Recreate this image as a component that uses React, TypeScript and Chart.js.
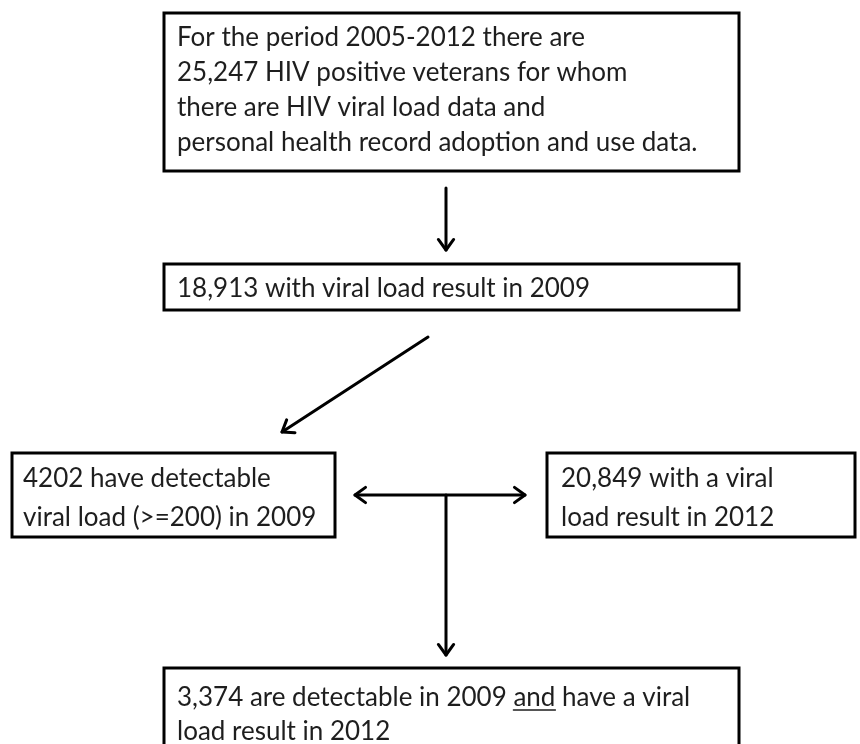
import React, { useEffect, useRef } from "react";
import { Chart, registerables } from "chart.js";

Chart.register(...registerables);

// Flowchart content (text of each step)
const stepTexts: string[][] = [
  [
    "For the period 2005-2012 there are",
    "25,247 HIV positive veterans for whom",
    "there are HIV viral load data and",
    "personal health record adoption and use data.",
  ],
  ["18,913 with viral load result in 2009"],
  ["4202 have detectable", "viral load (>=200) in 2009"],
  ["20,849 with a viral", "load result in 2012"],
  ["3,374 are detectable in 2009 _and_ have a viral", "load result in 2012"],
];

// Layout grid (in chart units; axis spans 0..860 x 0..744)
const boxLeft = [164, 164, 12, 547, 164];
const boxRight = [739, 739, 335, 855, 739];
const boxTop = [13, 264, 453, 453, 668];
const boxBottom = [171, 310, 537, 537, 764];
const firstBaseline = [33, 33, 34, 34, 38];
const lineGap = [35, 35, 39, 39, 34];
const textInset = [13, 13, 11, 14, 13];

// arrows
const arrowFromX = [446, 428, 446, 446];
const arrowFromY = [188, 337, 495, 495];
const arrowToX = [446, 282, 446, 355];
const arrowToY = [250, 432, 655, 495];
const arrowDouble = [false, false, false, true];
const arrowOtherX = [0, 0, 0, 525];

const FONT = "26px Lato, 'Open Sans', sans-serif";
const TEXT_COLOR = "#1e1e1e";

function drawHead(ctx: CanvasRenderingContext2D, x1: number, y1: number, x2: number, y2: number) {
  const ang = Math.atan2(y2 - y1, x2 - x1);
  const len = 13;
  const spread = Math.PI / 5;
  ctx.beginPath();
  ctx.moveTo(x2 - len * Math.cos(ang - spread), y2 - len * Math.sin(ang - spread));
  ctx.lineTo(x2, y2);
  ctx.lineTo(x2 - len * Math.cos(ang + spread), y2 - len * Math.sin(ang + spread));
  ctx.stroke();
}

const flowPlugin = {
  id: "flow",
  afterDraw(chart: any) {
    const ctx: CanvasRenderingContext2D = chart.ctx;
    const xs = chart.scales.x;
    const ys = chart.scales.y;
    const px = (v: number) => xs.getPixelForValue(v);
    const py = (v: number) => ys.getPixelForValue(v);
    ctx.save();
    ctx.fillStyle = "#ffffff";
    ctx.fillRect(0, 0, chart.width, chart.height);
    ctx.strokeStyle = "#000";
    ctx.lineCap = "round";
    // boxes
    stepTexts.forEach((lines, i) => {
      const x0 = px(boxLeft[i]);
      const x1 = px(boxRight[i]);
      const y0 = py(boxTop[i]);
      const y1 = py(boxBottom[i]);
      ctx.lineWidth = 3;
      ctx.lineJoin = "miter";
      ctx.strokeStyle = "#000";
      ctx.strokeRect(x0, y0, x1 - x0, y1 - y0);
      ctx.font = FONT;
      ctx.fillStyle = TEXT_COLOR;
      ctx.textBaseline = "alphabetic";
      ctx.textAlign = "left";
      lines.forEach((line, j) => {
        const by = y0 + firstBaseline[i] + j * lineGap[i];
        let cx = x0 + textInset[i];
        const parts = line.split("_");
        parts.forEach((part, k) => {
          ctx.fillText(part, cx, by);
          const w = ctx.measureText(part).width;
          if (k % 2 === 1) {
            ctx.lineWidth = 1.5;
            ctx.strokeStyle = TEXT_COLOR;
            ctx.beginPath();
            ctx.moveTo(cx, by + 4);
            ctx.lineTo(cx + w, by + 4);
            ctx.stroke();
          }
          cx += w;
        });
      });
    });
    // arrows
    ctx.lineJoin = "round";
    ctx.lineWidth = 3;
    ctx.strokeStyle = "#000";
    arrowFromX.forEach((fx, i) => {
      const sx = arrowDouble[i] ? px(arrowOtherX[i]) : px(fx);
      const sy = py(arrowFromY[i]);
      const ex = px(arrowToX[i]);
      const ey = py(arrowToY[i]);
      ctx.beginPath();
      ctx.moveTo(sx, sy);
      ctx.lineTo(ex, ey);
      ctx.stroke();
      drawHead(ctx, sx, sy, ex, ey);
      if (arrowDouble[i]) drawHead(ctx, ex, ey, sx, sy);
    });
    ctx.restore();
  },
};

export default function App() {
  const ref = useRef<HTMLCanvasElement | null>(null);
  useEffect(() => {
    document.body.style.margin = "0";
    const canvas = ref.current;
    if (!canvas) return;
    const chart = new Chart(canvas, {
      type: "scatter",
      data: {
        datasets: [
          {
            data: boxLeft.map((l, i) => ({ x: (l + boxRight[i]) / 2, y: (boxTop[i] + boxBottom[i]) / 2 })),
            pointRadius: 0,
          },
        ],
      },
      options: {
        responsive: false,
        animation: false,
        layout: { padding: 0 },
        plugins: { legend: { display: false }, tooltip: { enabled: false } },
        scales: {
          x: { type: "linear", min: 0, max: 860, display: false },
          y: { type: "linear", min: 0, max: 744, reverse: true, display: false },
        },
      },
      plugins: [flowPlugin],
    });
    return () => chart.destroy();
  }, []);
  return (
    <div style={{ width: 860, height: 744, background: "#fff", overflow: "hidden" }}>
      <canvas ref={ref} width={860} height={744} style={{ display: "block" }} />
    </div>
  );
}
